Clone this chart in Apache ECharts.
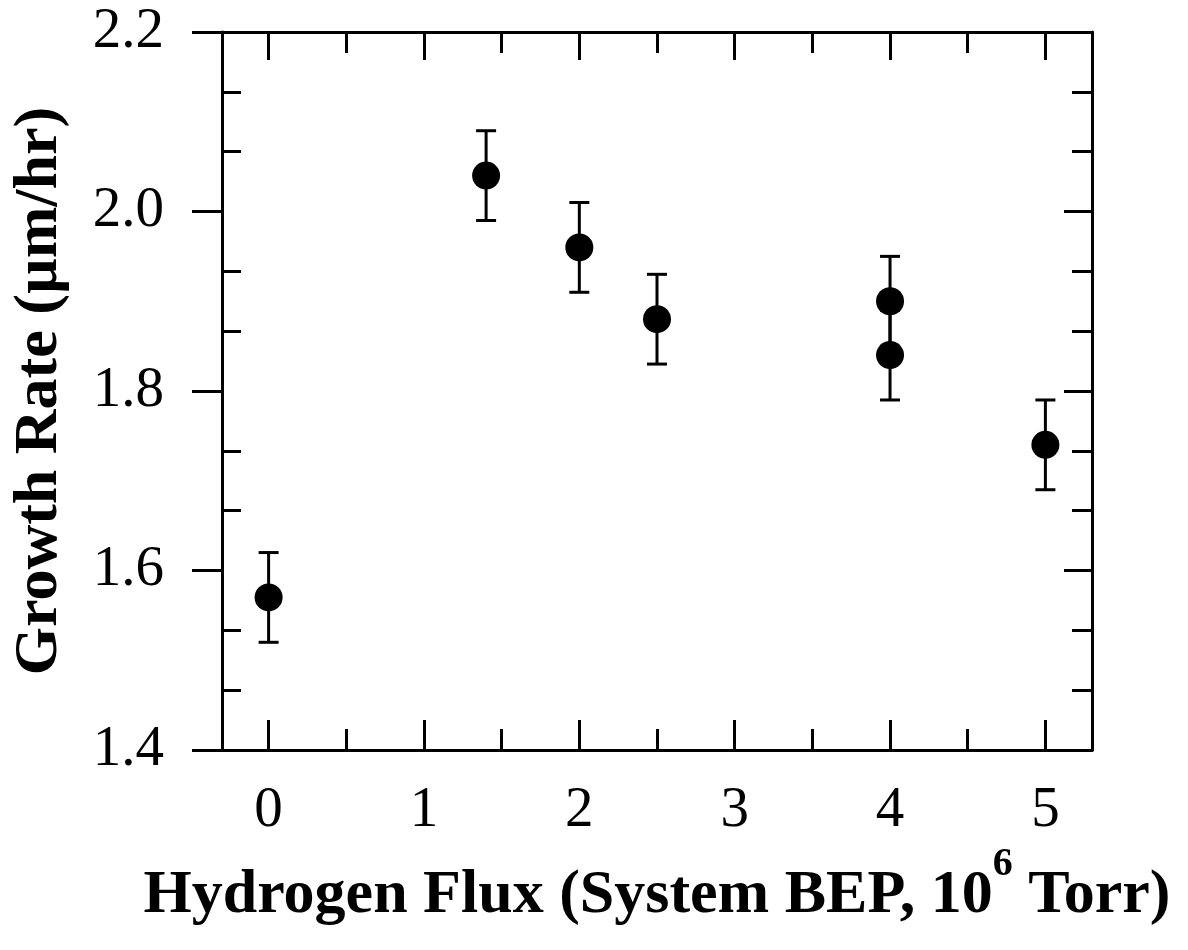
<!DOCTYPE html>
<html>
<head>
<meta charset="utf-8">
<script src="https://cdn.jsdelivr.net/npm/echarts@6/dist/echarts.min.js"></script>
<style>
  html, body { margin: 0; padding: 0; background: #fff; }
  #chart { width: 1188px; height: 950px; }
</style>
</head>
<body>
<div id="chart"></div>
<script>
// measured points (hydrogen flux vs growth rate)
var fluxX = [0, 1.4, 2, 2.5, 4, 4, 5]
var growthRate = [1.57, 2.04, 1.96, 1.88, 1.90, 1.84, 1.74]
var rateErr = [0.05, 0.05, 0.05, 0.05, 0.05, 0.05, 0.05]

// tick labels
var xMajorTicks = [0, 1, 2, 3, 4, 5]
var xMinorTicks = [0.5, 1.5, 2.5, 3.5, 4.5]
var yLabelTicks = [1.4, 1.6, 1.8, 2.0, 2.2]

var yMinorTicks = []
for (var i = 0; i < yLabelTicks.length - 1; i++) {
  var step = (yLabelTicks[i + 1] - yLabelTicks[i]) / 3
  yMinorTicks.push(yLabelTicks[i] + step, yLabelTicks[i] + 2 * step)
}

var serif = '"Liberation Serif", "DejaVu Serif", serif'
var lineStyle = { color: '#000', width: 3 }

var scatterData = fluxX.map(function (x, i) { return [x, growthRate[i]] })
var errData = fluxX.map(function (x, i) {
  return [x, growthRate[i] - rateErr[i], growthRate[i] + rateErr[i]]
})

function xAx(position, ticks, len, extra) {
  return Object.assign({
    type: 'value', position: position, min: -0.3, max: 5.3,
    axisLine: { show: false, onZero: false },
    axisTick: { show: true, inside: true, length: len, customValues: ticks, lineStyle: lineStyle },
    axisLabel: { show: false },
    splitLine: { show: false }
  }, extra || {})
}
function yAx(position, ticks, len, inside, extra) {
  return Object.assign({
    type: 'value', position: position, min: 1.4, max: 2.2,
    axisLine: { show: false, onZero: false },
    axisTick: { show: true, inside: inside, length: len, customValues: ticks, lineStyle: lineStyle },
    axisLabel: { show: false },
    splitLine: { show: false }
  }, extra || {})
}

var myChart = echarts.init(document.getElementById('chart'))
var option = {
  backgroundColor: '#fff',
  animation: false,
  grid: { left: 222, right: 96, top: 32, bottom: 200, containLabel: false, outerBoundsMode: 'none' },
  xAxis: [
    xAx('bottom', xMajorTicks, 30, {
      axisLine: { show: true, onZero: false, lineStyle: lineStyle },
      axisLabel: {
        show: true, customValues: xMajorTicks, margin: 33,
        fontFamily: serif, fontSize: 57, color: '#000'
      },
      name: '{a|Hydrogen Flux (System BEP, 10}{s|6}{a| Torr)}',
      nameLocation: 'middle',
      nameGap: 90,
      nameTextStyle: {
        rich: {
          a: { fontFamily: serif, fontWeight: 'bold', fontSize: 62, color: '#000' },
          s: { fontFamily: serif, fontWeight: 'bold', fontSize: 40, color: '#000', verticalAlign: 'bottom', padding: [0, 0, 62, 0] }
        }
      }
    }),
    xAx('bottom', xMinorTicks, 21),
    xAx('top', xMajorTicks, 28, { axisLine: { show: true, onZero: false, lineStyle: lineStyle } }),
    xAx('top', xMinorTicks, 21)
  ],
  yAxis: [
    yAx('left', yLabelTicks, 30, false, {
      axisLine: { show: true, onZero: false, lineStyle: lineStyle },
      axisLabel: {
        show: true, customValues: yLabelTicks, margin: 58,
        fontFamily: serif, fontSize: 57, color: '#000',
        formatter: function (v) { return v.toFixed(1) }
      },
      name: 'Growth Rate (\u00b5m/hr)',
      nameLocation: 'middle',
      nameGap: 151,
      nameTextStyle: { fontFamily: serif, fontWeight: 'bold', fontSize: 62, color: '#000' }
    }),
    yAx('left', yMinorTicks, 19, true),
    yAx('right', yLabelTicks, 28, true, { axisLine: { show: true, onZero: false, lineStyle: lineStyle } }),
    yAx('right', yMinorTicks, 20, true)
  ],
  series: [
    {
      type: 'custom',
      xAxisIndex: 0,
      yAxisIndex: 0,
      data: errData,
      renderItem: function (params, api) {
        var x = api.value(0)
        var lo = api.coord([x, api.value(1)])
        var hi = api.coord([x, api.value(2)])
        var hw = 10
        var st = { stroke: '#000', lineWidth: 3 }
        return {
          type: 'group',
          children: [
            { type: 'line', shape: { x1: lo[0], y1: lo[1], x2: hi[0], y2: hi[1] }, style: st },
            { type: 'line', shape: { x1: lo[0] - hw, y1: lo[1], x2: lo[0] + hw, y2: lo[1] }, style: st },
            { type: 'line', shape: { x1: hi[0] - hw, y1: hi[1], x2: hi[0] + hw, y2: hi[1] }, style: st }
          ]
        }
      },
      z: 2
    },
    {
      type: 'scatter',
      xAxisIndex: 0,
      yAxisIndex: 0,
      data: scatterData,
      symbol: 'circle',
      symbolSize: 28,
      itemStyle: { color: '#000', opacity: 1 },
      z: 3
    }
  ]
}
myChart.setOption(option)
</script>
</body>
</html>
